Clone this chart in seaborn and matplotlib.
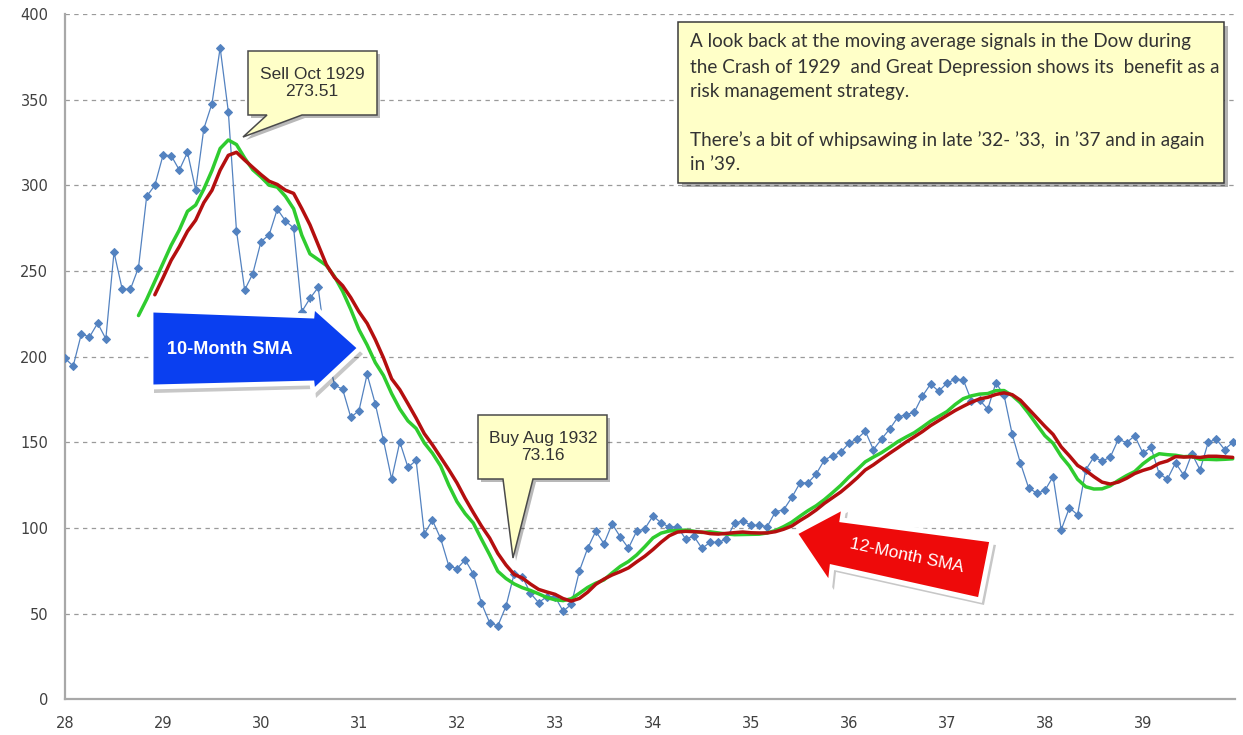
import numpy as np
import pandas as pd
import matplotlib
matplotlib.use("Agg")
import matplotlib.pyplot as plt
import seaborn as sns
from matplotlib.patches import Polygon

# ---------------- data (monthly Dow closes, Jan 1928 - Dec 1939) ----------------
dow_1928 = [199.0, 194.5, 213.2, 211.5, 219.5, 210.4, 261.0, 239.5, 239.2, 252.0, 293.5, 300.0]
dow_1929 = [317.5, 317.4, 308.9, 319.3, 297.4, 333.0, 347.7, 380.3, 343.0, 273.51, 238.9, 248.5]
dow_1930 = [267.1, 271.1, 286.1, 279.2, 275.1, 226.3, 234.0, 240.4, 204.9, 183.4, 181.0, 164.6]
dow_1931 = [168.5, 189.7, 172.4, 151.2, 128.5, 150.2, 135.4, 139.4, 96.6, 104.5, 93.9, 77.9]
dow_1932 = [76.2, 81.4, 73.3, 56.1, 44.7, 42.8, 54.3, 73.16, 71.6, 61.9, 56.4, 59.9]
dow_1933 = [60.0, 51.4, 55.4, 75.0, 88.1, 98.1, 90.8, 102.4, 94.8, 88.2, 98.1, 99.5]
dow_1934 = [107.0, 103.0, 100.5, 100.7, 93.6, 95.3, 88.1, 91.6, 91.6, 93.5, 102.9, 104.0]
dow_1935 = [101.7, 101.5, 100.8, 109.5, 110.6, 117.8, 126.2, 126.4, 131.6, 139.7, 142.2, 144.1]
dow_1936 = [149.5, 152.0, 156.5, 145.7, 152.0, 157.8, 164.7, 166.2, 167.5, 177.0, 184.0, 179.8]
dow_1937 = [184.5, 186.8, 186.5, 174.3, 174.7, 169.3, 184.8, 177.4, 154.6, 137.9, 123.5, 120.3]
dow_1938 = [121.9, 130.0, 99.0, 111.8, 107.7, 133.9, 141.4, 139.0, 141.3, 151.8, 149.8, 153.8]
dow_1939 = [143.7, 147.0, 131.6, 128.5, 138.0, 130.8, 143.4, 133.9, 150.0, 151.8, 145.8, 149.9]

dow = (dow_1928 + dow_1929 + dow_1930 + dow_1931 + dow_1932 + dow_1933 +
       dow_1934 + dow_1935 + dow_1936 + dow_1937 + dow_1938 + dow_1939)

x_ticks = [28, 29, 30, 31, 32, 33, 34, 35, 36, 37, 38, 39]
x_tick_labels = ["28", "29", "30", "31", "32", "33", "34", "35", "36", "37", "38", "39"]
y_ticks = [0, 50, 100, 150, 200, 250, 300, 350, 400]

sell_text = "Sell Oct 1929\n273.51"
buy_text = "Buy Aug 1932\n73.16"
note_lines = [
    "A look back at the moving average signals in the Dow during",
    "the Crash of 1929  and Great Depression shows its  benefit as a",
    "risk management strategy.",
    "There\u2019s a bit of whipsawing in late \u201932- \u201933,  in \u201937 and in again",
    "in \u201939.",
]
label_10 = "10-Month SMA"
label_12 = "12-Month SMA"

# ---------------- derived table ----------------
df = pd.DataFrame({"x": [28 + i / 12 for i in range(len(dow))], "dow": dow})
df["sma10"] = df["dow"].rolling(10).mean()
df["sma12"] = df["dow"].rolling(12).mean()

# ---------------- figure ----------------
W, H = 1243, 735
sns.set_theme(style="white")
plt.rcParams["font.family"] = ["DejaVu Sans"]

fig = plt.figure(figsize=(W / 100, H / 100), dpi=100)
fig.patch.set_facecolor("white")
ax = fig.add_axes([65 / W, 1 - 699.3 / H, (1235 - 65) / W, (699.3 - 14) / H])

sns.lineplot(data=df, x="x", y="dow", ax=ax, color="#5382c0", lw=0.9,
             marker="D", markersize=4.2, markeredgecolor="#5382c0", zorder=3)
sns.lineplot(data=df.dropna(subset=["sma10"]), x="x", y="sma10", ax=ax,
             color="#2fcc2f", lw=2.5, zorder=4)
sns.lineplot(data=df.dropna(subset=["sma12"]), x="x", y="sma12", ax=ax,
             color="#b40f0f", lw=2.5, zorder=5)

ax.set_xlim(28, 39.94)
ax.set_ylim(0, 400)
ax.set_xticks(x_ticks)
ax.set_xticklabels(x_tick_labels)
ax.set_yticks(y_ticks)
ax.set_xlabel("")
ax.set_ylabel("")
ax.yaxis.grid(True, linestyle=(0, (3.5, 3.5)), color="#9a9a9a", lw=0.9)
ax.xaxis.grid(False)
for s in ["top", "right"]:
    ax.spines[s].set_visible(False)
for s in ["left", "bottom"]:
    ax.spines[s].set_color("#a8a8a8")
    ax.spines[s].set_linewidth(1.6)
ax.tick_params(axis="both", which="major", direction="out", length=5,
               width=1.2, color="#a8a8a8", labelsize=10.5, labelcolor="#404040")
ax.tick_params(axis="y", pad=7)
ax.tick_params(axis="x", pad=7)


# ---------------- annotation shapes (pixel geometry) ----------------
def P(x, y):
    return (x / W, 1 - y / H)


def poly(points, dx=0, dy=0, **kw):
    p = Polygon([P(a + dx, b + dy) for a, b in points], closed=True,
                transform=fig.transFigure, **kw)
    fig.add_artist(p)
    return p


def callout(points):
    poly(points, dx=3, dy=3, fc="#000000", alpha=0.28, ec="none", zorder=20)
    poly(points, fc="#ffffc8", ec="#4a4a4a", lw=1.1, zorder=21)


# Sell callout
sell_pts = [(248, 51), (377, 51), (377, 115), (302, 115), (243, 137), (267, 115), (248, 115)]
callout(sell_pts)
fig.text(*P(312, 83), sell_text, ha="center", va="center", fontsize=12.5,
         family="Liberation Sans", color="#333333", linespacing=1.15, zorder=22)

# Buy callout
buy_pts = [(478, 415), (607, 415), (607, 479), (533, 479), (513, 558), (503, 479), (478, 479)]
callout(buy_pts)
fig.text(*P(543, 447), buy_text, ha="center", va="center", fontsize=12.5,
         family="Liberation Sans", color="#333333", linespacing=1.15, zorder=22)

# Note box
note_pts = [(678, 22), (1224, 22), (1224, 183), (678, 183)]
poly(note_pts, dx=4, dy=4, fc="#000000", alpha=0.3, ec="none", zorder=20)
poly(note_pts, fc="#ffffc8", ec="#3a3a3a", lw=1.1, zorder=21)
for yy, line in zip([42, 67, 92, 140, 165], note_lines):
    fig.text(*P(690, yy), line, ha="left", va="center", fontsize=13.6,
             family="Lato", color="#333333", zorder=22)

# Blue block arrow (10-Month SMA)
blue_pts = [(151, 310), (312, 316), (313, 306), (360, 348), (313, 392), (312, 383), (151, 387)]
poly(blue_pts, dx=3, dy=6, fc="#000000", alpha=0.22, ec="none", zorder=20)
poly(blue_pts, fc="#0a3ff0", ec="white", lw=3.5, joinstyle="miter", zorder=21)
fig.text(*P(230, 349), label_10, ha="center", va="center", fontsize=13,
         family="Liberation Sans", weight="bold", color="white", zorder=22)

# Red block arrow (12-Month SMA)
red_pts = [(795, 533), (844, 507), (842, 520), (992, 540), (980, 600), (832, 567), (830, 585)]
poly(red_pts, dx=4, dy=5, fc="#000000", alpha=0.22, ec="none", zorder=20)
poly(red_pts, fc="#ee0a0a", ec="white", lw=3.5, joinstyle="miter", zorder=21)
fig.text(*P(907, 556), label_12, ha="center", va="center", fontsize=12.5,
         family="Liberation Sans", color="white", rotation=-12,
         rotation_mode="anchor", zorder=22)

fig.savefig("out.png", dpi=100)
